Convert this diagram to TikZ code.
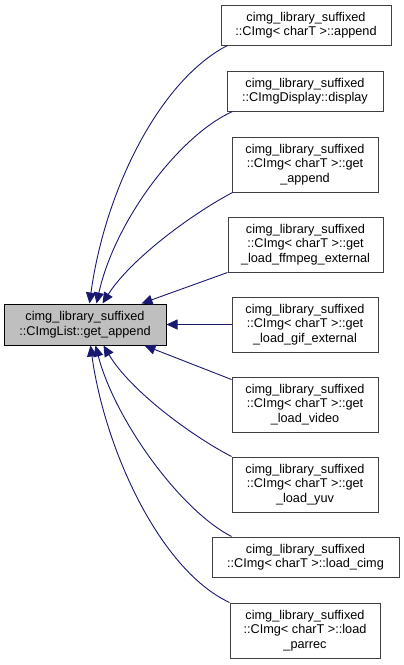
\documentclass[tikz,border=0pt]{standalone}
\usepackage{fontspec}
\setmainfont{Liberation Sans}
\usetikzlibrary{arrows.meta}
\definecolor{edgeblue}{HTML}{191970}
\definecolor{boxgray}{HTML}{BFBFBF}
\definecolor{boxline}{HTML}{404040}
\tikzset{
  fn/.style={draw=boxline, line width=1pt, fill=white, align=center, inner sep=0pt,
    font=\fontsize{12.7}{14.5}\selectfont},
  edge/.style={draw=edgeblue, line width=0.9pt, -{Triangle[length=11pt,width=10pt]}}
}
\begin{document}
\begin{tikzpicture}[x=1pt,y=-1pt]
\useasboundingbox (0,0) rectangle (404,665);
\node[fn, fill=boxgray, draw=black, minimum width=162pt, minimum height=41pt] (main) at (85,324.5) {cimg\_library\_suffixed\\::CImgList::get\_append};
\node[fn, minimum width=170pt, minimum height=40pt] (app) at (306,25) {cimg\_library\_suffixed\\::CImg< charT >::append};
\node[fn, minimum width=156pt, minimum height=40pt] (disp) at (305,91) {cimg\_library\_suffixed\\::CImgDisplay::display};
\node[fn, minimum width=146pt, minimum height=55pt] (ga) at (305,164.5) {cimg\_library\_suffixed\\::CImg< charT >::get\\\_append};
\node[fn, minimum width=155pt, minimum height=55pt] (ff) at (305.5,244.5) {cimg\_library\_suffixed\\::CImg< charT >::get\\\_load\_ffmpeg\_external};
\node[fn, minimum width=146pt, minimum height=55pt] (gif) at (305,324.5) {cimg\_library\_suffixed\\::CImg< charT >::get\\\_load\_gif\_external};
\node[fn, minimum width=146pt, minimum height=55pt] (vid) at (305,404.5) {cimg\_library\_suffixed\\::CImg< charT >::get\\\_load\_video};
\node[fn, minimum width=146pt, minimum height=55pt] (yuv) at (305,484.5) {cimg\_library\_suffixed\\::CImg< charT >::get\\\_load\_yuv};
\node[fn, minimum width=187pt, minimum height=40pt] (lc) at (305.5,557) {cimg\_library\_suffixed\\::CImg< charT >::load\_cimg};
\node[fn, minimum width=150pt, minimum height=55pt] (pr) at (305,630.5) {cimg\_library\_suffixed\\::CImg< charT >::load\\\_parrec};
% top edges
\draw[edge] ([xshift=7pt]app.south west) .. controls (160,80) and (105,190) .. ([xshift=86pt]main.north west);
\draw[edge] ([xshift=6pt]disp.south west) .. controls (180,135) and (115,220) .. ([xshift=93pt]main.north west);
\draw[edge] ([xshift=1pt]ga.south west) .. controls (190,215) and (130,260) .. ([xshift=99pt]main.north west);
\draw[edge] (ff.south west) -- ([xshift=138pt]main.north west);
\draw[edge] (gif.west) -- (main.east);
% bottom edges
\draw[edge] ([yshift=-3pt]vid.north west) -- ([xshift=141pt]main.south west);
\draw[edge] (yuv.north west) .. controls (190,435) and (130,390) .. ([xshift=100pt]main.south west);
\draw[edge] ([xshift=20pt]lc.north west) .. controls (180,510) and (115,420) .. ([xshift=92pt]main.south west);
\draw[edge] (pr.north west) .. controls (160,570) and (105,450) .. ([xshift=87pt]main.south west);
\end{tikzpicture}
\end{document}
